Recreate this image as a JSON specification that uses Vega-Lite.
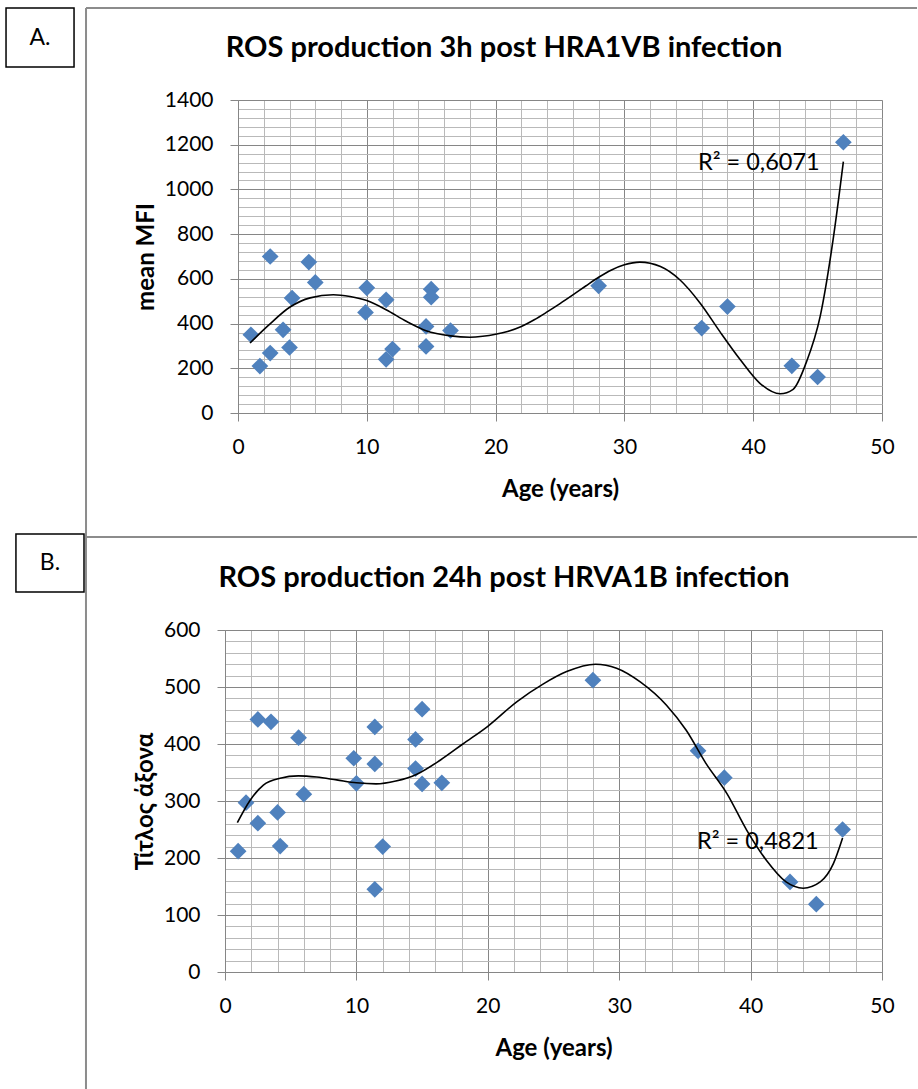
{
  "$schema": "https://vega.github.io/schema/vega-lite/v6.json",
  "background": "white",
  "padding": {"left": 5, "top": 7, "right": 0, "bottom": 0},
  "spacing": -2,
  "config": {
    "font": "Lato, Noto Sans",
    "view": {"stroke": null},
    "axis": {"labelColor": "#000000", "titleColor": "#000000", "labelFlush": false}
  },
  "datasets": {
    "one": [{}],
    "pointsA": [
      {"age": 1, "v": 350}, {"age": 1.7, "v": 210}, {"age": 2.5, "v": 700}, {"age": 2.5, "v": 268},
      {"age": 3.5, "v": 372}, {"age": 4, "v": 293}, {"age": 4.2, "v": 514}, {"age": 5.5, "v": 675},
      {"age": 6, "v": 584}, {"age": 9.9, "v": 450}, {"age": 10, "v": 560}, {"age": 11.5, "v": 506},
      {"age": 11.5, "v": 240}, {"age": 12, "v": 286}, {"age": 14.6, "v": 387}, {"age": 14.6, "v": 298},
      {"age": 15, "v": 554}, {"age": 15, "v": 518}, {"age": 16.5, "v": 369}, {"age": 28, "v": 569},
      {"age": 36, "v": 380}, {"age": 38, "v": 476}, {"age": 43, "v": 211}, {"age": 45, "v": 161},
      {"age": 47, "v": 1211}
    ],
    "curveA": [
      {"age": 0.93, "v": 313}, {"age": 2.4, "v": 394}, {"age": 4.04, "v": 474}, {"age": 5.6, "v": 515},
      {"age": 7.4, "v": 529}, {"age": 8.7, "v": 521}, {"age": 10, "v": 503}, {"age": 11.5, "v": 462},
      {"age": 13.1, "v": 409}, {"age": 14.6, "v": 368}, {"age": 16.5, "v": 345}, {"age": 18, "v": 339},
      {"age": 19, "v": 343}, {"age": 20, "v": 352}, {"age": 21, "v": 366}, {"age": 22, "v": 387},
      {"age": 23, "v": 417}, {"age": 24, "v": 452}, {"age": 25, "v": 489}, {"age": 26, "v": 528},
      {"age": 27, "v": 568}, {"age": 28, "v": 607}, {"age": 29, "v": 640}, {"age": 30, "v": 663},
      {"age": 31.2, "v": 675}, {"age": 32.8, "v": 655},
      {"age": 34.3, "v": 596}, {"age": 35.9, "v": 490}, {"age": 37.4, "v": 365}, {"age": 39, "v": 238},
      {"age": 40.5, "v": 134}, {"age": 42.1, "v": 86}, {"age": 43.1, "v": 106}, {"age": 44.1, "v": 223},
      {"age": 45.2, "v": 432}, {"age": 46.2, "v": 774}, {"age": 47, "v": 1124}
    ],
    "pointsB": [
      {"age": 1, "v": 212}, {"age": 1.6, "v": 297}, {"age": 2.5, "v": 443}, {"age": 2.5, "v": 261},
      {"age": 3.5, "v": 439}, {"age": 4, "v": 280}, {"age": 4.2, "v": 221}, {"age": 5.6, "v": 411},
      {"age": 6, "v": 312}, {"age": 9.8, "v": 375}, {"age": 10, "v": 331}, {"age": 11.4, "v": 430},
      {"age": 11.4, "v": 365}, {"age": 11.4, "v": 145}, {"age": 12, "v": 220}, {"age": 14.5, "v": 408},
      {"age": 14.5, "v": 357}, {"age": 15, "v": 461}, {"age": 15, "v": 330}, {"age": 16.5, "v": 332},
      {"age": 28, "v": 512}, {"age": 36, "v": 388}, {"age": 38, "v": 341}, {"age": 43, "v": 158},
      {"age": 45, "v": 119}, {"age": 47, "v": 250}
    ],
    "curveB": [
      {"age": 0.94, "v": 262}, {"age": 1.9, "v": 301}, {"age": 2.92, "v": 328}, {"age": 4.19, "v": 340},
      {"age": 5.58, "v": 344}, {"age": 6.98, "v": 342}, {"age": 8.5, "v": 337}, {"age": 10, "v": 332},
      {"age": 11.5, "v": 330}, {"age": 13, "v": 335}, {"age": 14.6, "v": 347}, {"age": 16.4, "v": 372},
      {"age": 18.1, "v": 400}, {"age": 20, "v": 431}, {"age": 22.2, "v": 474}, {"age": 24.2, "v": 505},
      {"age": 26, "v": 527}, {"age": 28.2, "v": 540}, {"age": 29.8, "v": 533}, {"age": 31.6, "v": 509},
      {"age": 33.6, "v": 468}, {"age": 35.1, "v": 424}, {"age": 36.6, "v": 366}, {"age": 38.2, "v": 313},
      {"age": 39.7, "v": 249}, {"age": 41.2, "v": 196}, {"age": 42.7, "v": 158}, {"age": 44, "v": 147},
      {"age": 45.3, "v": 158}, {"age": 46.3, "v": 190}, {"age": 47, "v": 235}
    ]
  },
  "vconcat": [
    {
      "hconcat": [
        {
          "width": 1,
          "height": 1,
          "data": {"name": "one"},
          "mark": {"type": "point", "opacity": 0, "size": 1},
          "encoding": {"x": {"value": 0}, "y": {"value": 0}}
        },
        {
          "width": 644,
          "height": 313,
          "resolve": {"axis": {"x": "independent", "y": "independent"}},
          "layer": [
            {
              "data": {"name": "pointsA"},
              "mark": {"type": "point", "shape": "diamond", "filled": true, "size": 280, "color": "#4F81BD", "opacity": 1},
              "encoding": {
                "x": {"field": "age", "type": "quantitative", "scale": {"domain": [0, 50], "nice": false},
                  "axis": {"orient": "bottom", "values": [0,2,4,6,8,10,12,14,16,18,20,22,24,26,28,30,32,34,36,38,40,42,44,46,48,50],
                    "grid": true, "gridColor": "#b9b9b9", "gridWidth": 1, "labels": false, "ticks": false, "domain": false, "title": null}},
                "y": {"field": "v", "type": "quantitative", "scale": {"domain": [0, 1400], "nice": false},
                  "axis": {"orient": "left", "values": [0,40,80,120,160,200,240,280,320,360,400,440,480,520,560,600,640,680,720,760,800,840,880,920,960,1000,1040,1080,1120,1160,1200,1240,1280,1320,1360,1400],
                    "grid": true, "gridColor": "#b9b9b9", "gridWidth": 1, "labels": false, "ticks": false, "domain": false, "title": null}}
              }
            },
            {
              "data": {"name": "curveA"},
              "mark": {"type": "line", "color": "#000000", "strokeWidth": 1.6, "interpolate": "monotone"},
              "encoding": {
                "x": {"field": "age", "type": "quantitative",
                  "axis": {"orient": "bottom", "values": [0,10,20,30,40,50], "format": "d", "grid": true, "gridColor": "#868686", "gridWidth": 1,
                    "domainColor": "#868686", "tickColor": "#868686", "tickSize": 8, "labelFontSize": 21, "labelPadding": 15,
                    "title": "Age (years)", "titleFontSize": 24, "titleFontWeight": "bold", "titlePadding": 20}},
                "y": {"field": "v", "type": "quantitative",
                  "axis": {"orient": "left", "values": [0,200,400,600,800,1000,1200,1400], "format": "d", "grid": true, "gridColor": "#868686", "gridWidth": 1,
                    "domainColor": "#868686", "tickColor": "#868686", "tickSize": 8, "labelFontSize": 21, "labelPadding": 17,
                    "title": "mean MFI", "titleFontSize": 24, "titleFontWeight": "bold", "titlePadding": 6}}
              }
            },
            {
              "data": {"name": "one"},
              "mark": {"type": "rect", "fill": "white", "stroke": "#000000", "strokeWidth": 1.5},
              "encoding": {
                "x": {"datum": -18.01, "type": "quantitative", "axis": null}, "x2": {"datum": -12.73},
                "y": {"datum": 1811.5, "type": "quantitative", "axis": null}, "y2": {"datum": 1547.6}
              }
            },
            {
              "data": {"name": "one"},
              "mark": {"type": "text", "text": "A.", "fontSize": 23, "align": "center", "baseline": "middle", "color": "#000000"},
              "encoding": {
                "x": {"datum": -15.37, "type": "quantitative", "axis": null},
                "y": {"datum": 1677.3, "type": "quantitative", "axis": null}
              }
            },
            {
              "data": {"name": "one"},
              "mark": {"type": "rule", "color": "#8c8c8c", "strokeWidth": 2},
              "encoding": {
                "x": {"datum": -11.8, "type": "quantitative", "axis": null}, "x2": {"datum": 52.72},
                "y": {"datum": 1811.5, "type": "quantitative", "axis": null}
              }
            },
            {
              "data": {"name": "one"},
              "mark": {"type": "rule", "color": "#8c8c8c", "strokeWidth": 2},
              "encoding": {
                "x": {"datum": -11.8, "type": "quantitative", "axis": null},
                "y": {"datum": 1811.5, "type": "quantitative", "axis": null}, "y2": {"datum": -541.2}
              }
            },
            {
              "data": {"name": "one"},
              "mark": {"type": "text", "text": "ROS production 3h post HRA1VB infection", "fontSize": 29, "fontWeight": "bold", "align": "center", "baseline": "middle", "color": "#000000"},
              "encoding": {
                "x": {"datum": 20.65, "type": "quantitative", "axis": null},
                "y": {"datum": 1632.6, "type": "quantitative", "axis": null}
              }
            },
            {
              "data": {"name": "one"},
              "mark": {"type": "text", "text": "R² = 0,6071", "fontSize": 23.5, "align": "left", "baseline": "middle", "color": "#000000"},
              "encoding": {
                "x": {"datum": 35.71, "type": "quantitative", "axis": null},
                "y": {"datum": 1118, "type": "quantitative", "axis": null}
              }
            }
          ]
        }
      ],
      "spacing": -221,
      "align": "each"
    },
    {
      "width": 657,
      "height": 342,
      "resolve": {"axis": {"x": "independent", "y": "independent"}},
      "layer": [
        {
          "data": {"name": "pointsB"},
          "mark": {"type": "point", "shape": "diamond", "filled": true, "size": 280, "color": "#4F81BD", "opacity": 1},
          "encoding": {
            "x": {"field": "age", "type": "quantitative", "scale": {"domain": [0, 50], "nice": false},
              "axis": {"orient": "bottom", "values": [0,2,4,6,8,10,12,14,16,18,20,22,24,26,28,30,32,34,36,38,40,42,44,46,48,50],
                "grid": true, "gridColor": "#b9b9b9", "gridWidth": 1, "labels": false, "ticks": false, "domain": false, "title": null}},
            "y": {"field": "v", "type": "quantitative", "scale": {"domain": [0, 600], "nice": false},
              "axis": {"orient": "left", "values": [0,20,40,60,80,100,120,140,160,180,200,220,240,260,280,300,320,340,360,380,400,420,440,460,480,500,520,540,560,580,600],
                "grid": true, "gridColor": "#b9b9b9", "gridWidth": 1, "labels": false, "ticks": false, "domain": false, "title": null}}
          }
        },
        {
          "data": {"name": "curveB"},
          "mark": {"type": "line", "color": "#000000", "strokeWidth": 1.6, "interpolate": "monotone"},
          "encoding": {
            "x": {"field": "age", "type": "quantitative",
              "axis": {"orient": "bottom", "values": [0,10,20,30,40,50], "format": "d", "grid": true, "gridColor": "#868686", "gridWidth": 1,
                "domainColor": "#868686", "tickColor": "#868686", "tickSize": 8, "labelFontSize": 21, "labelPadding": 15,
                "title": "Age (years)", "titleFontSize": 24, "titleFontWeight": "bold", "titlePadding": 20}},
            "y": {"field": "v", "type": "quantitative",
              "axis": {"orient": "left", "values": [0,100,200,300,400,500,600], "format": "d", "grid": true, "gridColor": "#868686", "gridWidth": 1,
                "domainColor": "#868686", "tickColor": "#868686", "tickSize": 8, "labelFontSize": 21, "labelPadding": 17,
                "title": "Τίτλος άξονα", "titleFontSize": 24, "titleFontWeight": "bold", "titlePadding": 6}}
          }
        },
        {
          "data": {"name": "one"},
          "mark": {"type": "rect", "fill": "white", "stroke": "#000000", "strokeWidth": 1.5},
          "encoding": {
            "x": {"datum": -15.91, "type": "quantitative", "axis": null}, "x2": {"datum": -10.73},
            "y": {"datum": 768.4, "type": "quantitative", "axis": null}, "y2": {"datum": 666.7}
          }
        },
        {
          "data": {"name": "one"},
          "mark": {"type": "text", "text": "B.", "fontSize": 23, "align": "center", "baseline": "middle", "color": "#000000"},
          "encoding": {
            "x": {"datum": -13.32, "type": "quantitative", "axis": null},
            "y": {"datum": 717.5, "type": "quantitative", "axis": null}
          }
        },
        {
          "data": {"name": "one"},
          "mark": {"type": "rule", "color": "#8c8c8c", "strokeWidth": 2},
          "encoding": {
            "x": {"datum": -10.58, "type": "quantitative", "axis": null}, "x2": {"datum": 52.66},
            "y": {"datum": 763.2, "type": "quantitative", "axis": null}
          }
        },
        {
          "data": {"name": "one"},
          "mark": {"type": "rule", "color": "#8c8c8c", "strokeWidth": 2},
          "encoding": {
            "x": {"datum": -10.58, "type": "quantitative", "axis": null},
            "y": {"datum": 768.4, "type": "quantitative", "axis": null}, "y2": {"datum": -205.3}
          }
        },
        {
          "data": {"name": "one"},
          "mark": {"type": "text", "text": "ROS production 24h post HRVA1B infection", "fontSize": 29, "fontWeight": "bold", "align": "center", "baseline": "middle", "color": "#000000"},
          "encoding": {
            "x": {"datum": 21.23, "type": "quantitative", "axis": null},
            "y": {"datum": 691.2, "type": "quantitative", "axis": null}
          }
        },
        {
          "data": {"name": "one"},
          "mark": {"type": "text", "text": "R² = 0,4821", "fontSize": 23.5, "align": "left", "baseline": "middle", "color": "#000000"},
          "encoding": {
            "x": {"datum": 35.92, "type": "quantitative", "axis": null},
            "y": {"datum": 228, "type": "quantitative", "axis": null}
          }
        }
      ]
    }
  ]
}
